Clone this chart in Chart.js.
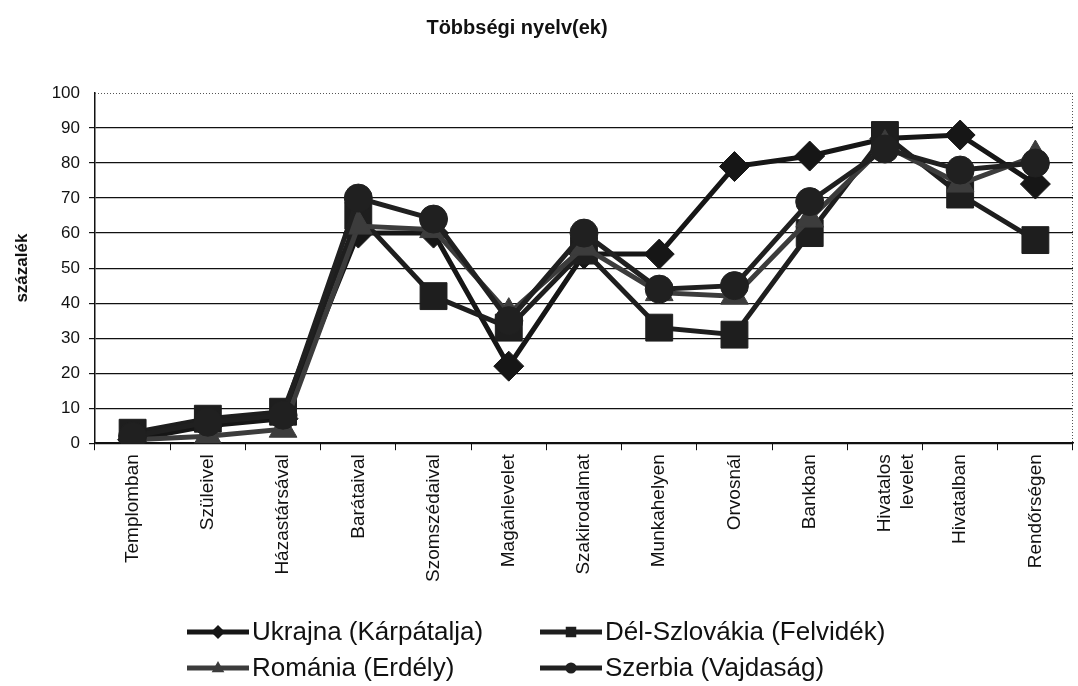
<!DOCTYPE html>
<html>
<head>
<meta charset="utf-8">
<script src="https://cdn.jsdelivr.net/npm/chart.js@4/dist/chart.umd.min.js"></script>
<style>
	html, body { margin: 0; padding: 0; background: #fff; }
	#wrap { width: 1078px; height: 686px; position: relative; }
</style>
</head>
<body>
<div id="wrap"><canvas id="chart" width="1078" height="686"></canvas></div>
<script>
// Categories (x axis)
const categories = [
	'Templomban', 'Szüleivel', 'Házastársával', 'Barátaival', 'Szomszédaival',
	'Magánlevelet', 'Szakirodalmat', 'Munkahelyen', 'Orvosnál', 'Bankban',
	['Hivatalos', 'levelet'], 'Hivatalban', 'Rendőrségen'
];

// Series values (százalék)
const ukrajna = [1, 5, 7, 60, 60, 22, 54, 54, 79, 82, 87, 88, 74];
const delSzlovakia = [3, 7, 9, 65, 42, 33, 55, 33, 31, 60, 88, 71, 58];
const romania = [1, 2, 4, 62, 61, 37, 56, 43, 42, 64, 85, 74, 82];
const szerbia = [2, 6, 8, 70, 64, 35, 60, 44, 45, 69, 84, 78, 80];

const seriesNames = ['Ukrajna (Kárpátalja)', 'Dél-Szlovákia (Felvidék)', 'Románia (Erdély)', 'Szerbia (Vajdaság)'];

// y tick values
const yTicks = [0, 10, 20, 30, 40, 50, 60, 70, 80, 90, 100];

const FONT = 'Arial, "Liberation Sans", sans-serif';

// draw one marker shape (legend only)
const drawMarker = (ctx, style, x, y, r, color) => {
	ctx.save();
	ctx.fillStyle = color;
	ctx.beginPath();
	if (style === 'rectRot') {
		ctx.moveTo(x, y - r); ctx.lineTo(x + r, y); ctx.lineTo(x, y + r); ctx.lineTo(x - r, y);
	} else if (style === 'rect') {
		ctx.rect(x - r * 0.75, y - r * 0.75, r * 1.5, r * 1.5);
	} else if (style === 'triangle') {
		ctx.moveTo(x, y - r); ctx.lineTo(x + r * 0.9, y + r * 0.6); ctx.lineTo(x - r * 0.9, y + r * 0.6);
	} else {
		ctx.arc(x, y, r * 0.8, 0, Math.PI * 2);
	}
	ctx.closePath();
	ctx.fill();
	ctx.restore();
};

// title, dotted frame and legend (line + marker) drawn by hand
const extras = {
	id: 'extras',
	afterDraw(chart) {
		const ctx = chart.ctx;
		const a = chart.chartArea;
		ctx.save();

		// title
		ctx.fillStyle = '#111';
		ctx.font = 'bold 20px ' + FONT;
		ctx.textAlign = 'center';
		ctx.textBaseline = 'middle';
		ctx.fillText('Többségi nyelv(ek)', 517, 28);

		// dotted top + right edge of plot area
		ctx.strokeStyle = '#555';
		ctx.lineWidth = 1;
		ctx.setLineDash([1, 2]);
		ctx.beginPath();
		ctx.moveTo(a.left, a.top + 0.5); ctx.lineTo(a.right, a.top + 0.5);
		ctx.moveTo(a.right - 0.5, a.top); ctx.lineTo(a.right - 0.5, a.bottom);
		ctx.stroke();
		ctx.setLineDash([]);

		// legend
		const spots = [[187, 632], [540, 632], [187, 668], [540, 668]];
		ctx.font = '26px ' + FONT;
		ctx.textAlign = 'left';
		chart.data.datasets.forEach((ds, i) => {
			const [lx, ly] = spots[i];
			ctx.strokeStyle = ds.borderColor;
			ctx.lineWidth = 5;
			ctx.beginPath();
			ctx.moveTo(lx, ly); ctx.lineTo(lx + 62, ly);
			ctx.stroke();
			drawMarker(ctx, ds.pointStyle, lx + 31, ly, 7, ds.borderColor);
			ctx.fillStyle = '#111';
			ctx.fillText(seriesNames[i], lx + 65, ly + 1);
		});
		ctx.restore();
	}
};

const makeSet = (label, data, color, style, radius, order) => ({
	label: label,
	data: data,
	borderColor: color,
	backgroundColor: color,
	pointBackgroundColor: color,
	pointBorderColor: color,
	borderWidth: 5,
	pointStyle: style,
	pointRadius: radius,
	pointBorderWidth: 1,
	order: order,
	tension: 0
});

new Chart(document.getElementById('chart'), {
	type: 'line',
	data: {
		labels: categories,
		datasets: [
			makeSet(seriesNames[0], ukrajna, '#161616', 'rectRot', 15, 4),
			makeSet(seriesNames[1], delSzlovakia, '#1e1e1e', 'rect', 19, 3),
			makeSet(seriesNames[2], romania, '#3c3c3c', 'triangle', 16, 2),
			makeSet(seriesNames[3], szerbia, '#202020', 'circle', 14, 1)
		]
	},
	options: {
		responsive: false,
		animation: false,
		layout: { autoPadding: false, padding: { top: 93, right: 5, bottom: 100, left: 10 } },
		plugins: {
			legend: { display: false },
			tooltip: { enabled: false }
		},
		scales: {
			x: {
				offset: true,
				afterFit: (scale) => { scale.paddingLeft = 0; scale.paddingRight = 0; },
				grid: { display: true, drawOnChartArea: false, offset: true, color: '#111', tickLength: 7 },
				border: { color: '#111', width: 1.5 },
				ticks: {
					color: '#111',
					font: { family: FONT, size: 19 },
					maxRotation: 90,
					minRotation: 90,
					autoSkip: false,
					padding: 4
				}
			},
			y: {
				min: 0,
				max: 100,
				afterFit: (scale) => { scale.width = 85; },
				afterBuildTicks: (scale) => { scale.ticks = yTicks.map(v => ({ value: v })); },
				grid: {
					color: (c) => (c.tick && c.tick.value === 100 ? 'rgba(0,0,0,0)' : '#111'),
					lineWidth: 1.2,
					tickLength: 6
				},
				border: { color: '#111', width: 1.5 },
				ticks: {
					color: '#111',
					font: { family: FONT, size: 17 },
					padding: 9
				},
				title: {
					display: true,
					text: 'százalék',
					color: '#111',
					font: { family: FONT, size: 17, weight: 'bold' },
					padding: { top: 2, bottom: 8 }
				}
			}
		}
	},
	plugins: [extras]
});
</script>
</body>
</html>
